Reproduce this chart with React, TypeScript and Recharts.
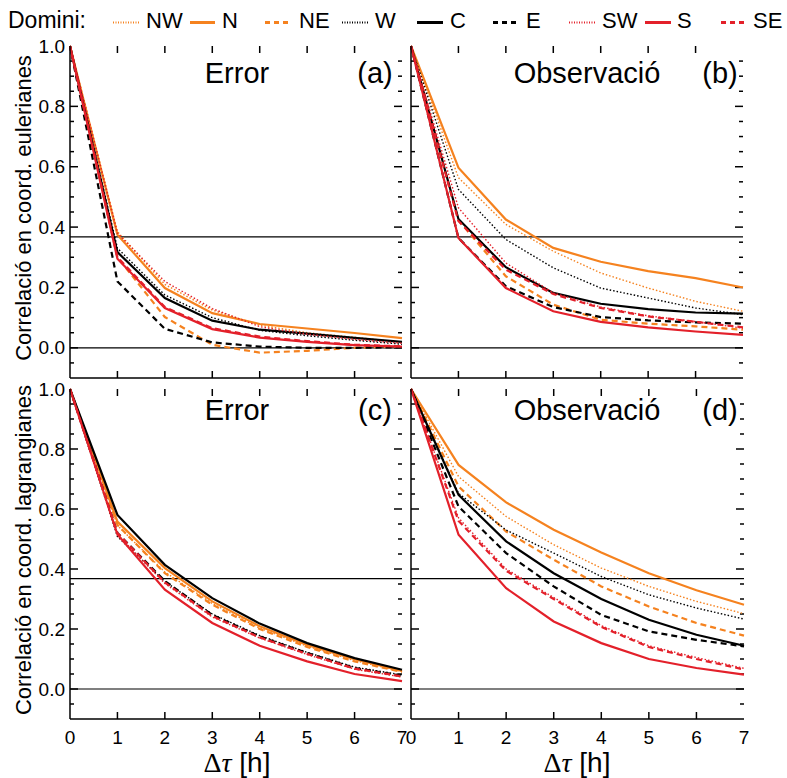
import { Line, LineChart, ReferenceLine, XAxis, YAxis } from 'recharts'

const lags = [0, 1, 2, 3, 4, 5, 6, 7]
const domains = ['NW', 'N', 'NE', 'W', 'C', 'E', 'SW', 'S', 'SE']
const yTicks = [-0.1, -0.05, 0, 0.05, 0.1, 0.15, 0.2, 0.25, 0.3, 0.35, 0.4, 0.45, 0.5, 0.55, 0.6, 0.65, 0.7, 0.75, 0.8, 0.85, 0.9, 0.95, 1]
const xTicks = [0, 1, 2, 3, 4, 5, 6, 7]
const efolding = 0.3679

// (a) error, eulerian coords
const eulerError: Record<string, number[]> = {
  NW: [1, 0.385, 0.21, 0.125, 0.075, 0.05, 0.035, 0.018],
  N: [1, 0.375, 0.198, 0.115, 0.079, 0.064, 0.049, 0.032],
  NE: [1, 0.3, 0.102, 0.01, -0.016, -0.01, 0.0, 0.005],
  W: [1, 0.33, 0.175, 0.1, 0.058, 0.04, 0.025, 0.012],
  C: [1, 0.317, 0.165, 0.09, 0.06, 0.047, 0.033, 0.02],
  E: [1, 0.22, 0.063, 0.018, 0.004, 0.0, 0.0, 0.002],
  SW: [1, 0.38, 0.22, 0.13, 0.07, 0.045, 0.028, 0.015],
  S: [1, 0.295, 0.132, 0.062, 0.034, 0.02, 0.009, 0.004],
  SE: [1, 0.3, 0.135, 0.065, 0.037, 0.022, 0.01, 0.005],
}

// (b) observation, eulerian coords
const eulerObs: Record<string, number[]> = {
  NW: [1, 0.564, 0.409, 0.32, 0.248, 0.198, 0.154, 0.121],
  N: [1, 0.597, 0.425, 0.331, 0.285, 0.254, 0.231, 0.2],
  NE: [1, 0.423, 0.237, 0.143, 0.093, 0.08, 0.071, 0.06],
  W: [1, 0.525, 0.359, 0.265, 0.198, 0.165, 0.132, 0.11],
  C: [1, 0.427, 0.267, 0.182, 0.146, 0.128, 0.117, 0.113],
  E: [1, 0.364, 0.204, 0.135, 0.102, 0.091, 0.084, 0.08],
  SW: [1, 0.464, 0.281, 0.182, 0.135, 0.106, 0.087, 0.065],
  S: [1, 0.364, 0.198, 0.121, 0.086, 0.068, 0.054, 0.043],
  SE: [1, 0.42, 0.259, 0.178, 0.132, 0.104, 0.086, 0.068],
}

// (c) error, lagrangian coords
const lagrError: Record<string, number[]> = {
  NW: [1, 0.545, 0.39, 0.285, 0.203, 0.143, 0.095, 0.058],
  N: [1, 0.558, 0.403, 0.292, 0.209, 0.147, 0.099, 0.06],
  NE: [1, 0.547, 0.386, 0.281, 0.2, 0.14, 0.092, 0.057],
  W: [1, 0.508, 0.358, 0.25, 0.178, 0.122, 0.073, 0.047],
  C: [1, 0.58, 0.414, 0.303, 0.218, 0.153, 0.103, 0.064],
  E: [1, 0.52, 0.36, 0.247, 0.175, 0.12, 0.07, 0.044],
  SW: [1, 0.515, 0.352, 0.24, 0.17, 0.115, 0.066, 0.04],
  S: [1, 0.515, 0.331, 0.22, 0.144, 0.092, 0.05, 0.026],
  SE: [1, 0.52, 0.355, 0.243, 0.172, 0.117, 0.068, 0.042],
}

// (d) observation, lagrangian coords
const lagrObs: Record<string, number[]> = {
  NW: [1, 0.708, 0.575, 0.481, 0.403, 0.342, 0.292, 0.251],
  N: [1, 0.747, 0.622, 0.531, 0.455, 0.386, 0.329, 0.281],
  NE: [1, 0.675, 0.525, 0.431, 0.342, 0.275, 0.22, 0.178],
  W: [1, 0.652, 0.53, 0.453, 0.375, 0.314, 0.27, 0.233],
  C: [1, 0.647, 0.492, 0.386, 0.3, 0.231, 0.181, 0.144],
  E: [1, 0.608, 0.453, 0.342, 0.247, 0.192, 0.164, 0.142],
  SW: [1, 0.57, 0.4, 0.305, 0.211, 0.144, 0.105, 0.069],
  S: [1, 0.514, 0.336, 0.225, 0.153, 0.1, 0.07, 0.048],
  SE: [1, 0.56, 0.394, 0.3, 0.207, 0.14, 0.1, 0.065],
}

const ORANGE = '#f5821f'
const RED = '#e3202a'
const BLACK = '#000000'
const FONT = '"Liberation Sans", Arial, Helvetica, sans-serif'
const SERIF = '"Liberation Serif", "DejaVu Serif", serif'

const styles: Record<string, { color: string; dash?: string; width: number }> = {
  NW: { color: ORANGE, dash: '1.5 2', width: 1.4 },
  N: { color: ORANGE, width: 2.2 },
  NE: { color: ORANGE, dash: '6 4', width: 2.2 },
  W: { color: BLACK, dash: '1.5 2', width: 1.4 },
  C: { color: BLACK, width: 2.2 },
  E: { color: BLACK, dash: '6 4', width: 2.2 },
  SW: { color: RED, dash: '1.5 2', width: 1.4 },
  S: { color: RED, width: 2.2 },
  SE: { color: RED, dash: '6 4', width: 2.2 },
}

// legend layout: sample start/end and label x
const legendItems = [
  { key: 'NW', x1: 113, x2: 139, tx: 146 },
  { key: 'N', x1: 190, x2: 215, tx: 222 },
  { key: 'NE', x1: 265, x2: 289, tx: 299 },
  { key: 'W', x1: 342, x2: 368, tx: 375 },
  { key: 'C', x1: 417, x2: 443, tx: 450 },
  { key: 'E', x1: 493, x2: 517, tx: 526 },
  { key: 'SW', x1: 569, x2: 595, tx: 602 },
  { key: 'S', x1: 645, x2: 671, tx: 677 },
  { key: 'SE', x1: 721, x2: 744, tx: 753 },
]

function toRows(panel: Record<string, number[]>) {
  return lags.map((t, i) => {
    const row: Record<string, number> = { t }
    domains.forEach(d => { row[d] = panel[d][i] })
    return row
  })
}

function isMajor(v: number) {
  return Math.abs(v * 5 - Math.round(v * 5)) < 1e-6
}

function YLabel(props: any) {
  const { x, y, payload, showLabel } = props
  const v = payload.value as number
  if (!showLabel || !isMajor(v) || v < 0) return <g />
  return (
    <text x={x - 5} y={y} textAnchor="end" dominantBaseline="central" fontSize={19} fontFamily={FONT} fill="#000">
      {v.toFixed(1)}
    </text>
  )
}

function XLabel(props: any) {
  const { x, y, payload, showLabel } = props
  if (!showLabel) return <g />
  return (
    <text x={x} y={y + 18} textAnchor="middle" dominantBaseline="central" fontSize={19} fontFamily={FONT} fill="#000">
      {payload.value}
    </text>
  )
}

interface PanelProps {
  left: number
  top: number
  w: number
  h: number
  panel: Record<string, number[]>
  showX: boolean
  showY: boolean
}

const PAD_TOP = 15

function Panel({ left, top, w, h, panel, showX, showY }: PanelProps) {
  const data = toRows(panel)
  const axisLine = { stroke: '#000', strokeWidth: 1.5 }
  // inward tick marks: lengths in pixels converted to data units of this panel
  const hPerPx = 7 / w
  const yPerPx = 1.1 / h
  const inner = yTicks.filter(v => v > -0.1 && v < 1)
  const innerX = xTicks.filter(t => t > 0 && t < 7)
  return (
    <div style={{ position: 'absolute', left: left - 50, top: top - PAD_TOP }}>
      <LineChart width={w + 60} height={h + PAD_TOP + 35} data={data} margin={{ top: PAD_TOP, right: 10, bottom: 0, left: 0 }}>
        <XAxis
          dataKey="t"
          type="number"
          domain={[0, 7]}
          ticks={xTicks}
          interval={0}
          height={35}
          tickSize={0}
          tickMargin={0}
          tickLine={false}
          axisLine={axisLine}
          tick={(p: any) => <XLabel {...p} showLabel={showX} />}
        />
        <XAxis xAxisId="top" orientation="top" dataKey="t" type="number" domain={[0, 7]} height={0} tick={false} tickLine={false} axisLine={axisLine} />
        <YAxis
          yAxisId="left"
          type="number"
          domain={[-0.1, 1]}
          ticks={yTicks}
          interval={0}
          width={50}
          tickSize={0}
          tickMargin={0}
          tickLine={false}
          axisLine={axisLine}
          tick={(p: any) => <YLabel {...p} showLabel={showY} />}
        />
        <YAxis yAxisId="right" orientation="right" type="number" domain={[-0.1, 1]} width={0} tick={false} tickLine={false} axisLine={axisLine} />
        {inner.map(v => {
          const len = (isMajor(v) ? 8 : 4) * hPerPx
          return [
            <ReferenceLine key={`l${v}`} yAxisId="left" segment={[{ x: 0, y: v }, { x: len, y: v }]} stroke="#000" strokeWidth={1.5} />,
            <ReferenceLine key={`r${v}`} yAxisId="left" segment={[{ x: 7 - len, y: v }, { x: 7, y: v }]} stroke="#000" strokeWidth={1.5} />,
          ]
        })}
        {innerX.map(t => [
          <ReferenceLine key={`b${t}`} yAxisId="left" segment={[{ x: t, y: -0.1 }, { x: t, y: -0.1 + 7 * yPerPx }]} stroke="#000" strokeWidth={1.5} />,
          <ReferenceLine key={`t${t}`} yAxisId="left" segment={[{ x: t, y: 1 }, { x: t, y: 1 - 7 * yPerPx }]} stroke="#000" strokeWidth={1.5} />,
        ])}
        <ReferenceLine yAxisId="left" y={0} stroke="#000" strokeWidth={1.2} />
        <ReferenceLine yAxisId="left" y={efolding} stroke="#000" strokeWidth={1.2} />
        {domains.map(d => (
          <Line
            key={d}
            yAxisId="left"
            dataKey={d}
            type="linear"
            stroke={styles[d].color}
            strokeWidth={styles[d].width}
            strokeDasharray={styles[d].dash}
            dot={false}
            activeDot={false}
            isAnimationActive={false}
          />
        ))}
      </LineChart>
    </div>
  )
}

function DeltaTau({ x }: { x: number }) {
  return (
    <text x={x} y={772} fontSize={28} textAnchor="middle">
      <tspan fontFamily={SERIF}>Δ</tspan>
      <tspan fontFamily={SERIF} fontStyle="italic">τ</tspan>
      <tspan> [h]</tspan>
    </text>
  )
}

export default function App() {
  return (
    <div style={{ position: 'absolute', left: 0, top: 0, width: 787, height: 778, background: '#fff', fontFamily: FONT }}>
      <Panel left={70} top={46} w={332} h={332} panel={eulerError} showX={false} showY={true} />
      <Panel left={411} top={46} w={332} h={332} panel={eulerObs} showX={false} showY={false} />
      <Panel left={70} top={389} w={332} h={330} panel={lagrError} showX={true} showY={true} />
      <Panel left={411} top={389} w={333} h={330} panel={lagrObs} showX={true} showY={false} />
      <svg width={787} height={778} style={{ position: 'absolute', left: 0, top: 0, pointerEvents: 'none' }}>
        <g fontFamily={FONT} fill="#000">
          <text x={8} y={28} fontSize={23}>Domini:</text>
          {legendItems.map(it => (
            <g key={it.key}>
              <line
                x1={it.x1}
                x2={it.x2}
                y1={22.5}
                y2={22.5}
                stroke={styles[it.key].color}
                strokeWidth={styles[it.key].dash === '6 4' ? 3 : styles[it.key].dash ? 2 : 3}
                strokeDasharray={styles[it.key].dash === '6 4' ? '5 4' : styles[it.key].dash ? '1 1.5' : undefined}
              />
              <text x={it.tx} y={28} fontSize={22}>{it.key}</text>
            </g>
          ))}
          <text x={237} y={83} fontSize={29} textAnchor="middle">Error</text>
          <text x={375} y={83} fontSize={29} textAnchor="middle">(a)</text>
          <text x={587} y={83} fontSize={29} textAnchor="middle">Observació</text>
          <text x={720} y={83} fontSize={29} textAnchor="middle">(b)</text>
          <text x={237} y={420} fontSize={29} textAnchor="middle">Error</text>
          <text x={375} y={420} fontSize={29} textAnchor="middle">(c)</text>
          <text x={587} y={420} fontSize={29} textAnchor="middle">Observació</text>
          <text x={720} y={420} fontSize={29} textAnchor="middle">(d)</text>
          <text transform="translate(31,208) rotate(-90)" fontSize={22} textAnchor="middle">Correlació en coord. eulerianes</text>
          <text transform="translate(31,550) rotate(-90)" fontSize={22} textAnchor="middle">Correlació en coord. lagrangianes</text>
          <DeltaTau x={237} />
          <DeltaTau x={577} />
        </g>
      </svg>
    </div>
  )
}
